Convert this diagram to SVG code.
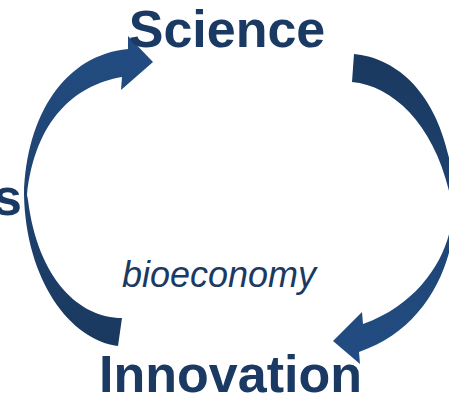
<svg xmlns="http://www.w3.org/2000/svg" width="449" height="398" viewBox="0 0 449 398">
<defs>
<style>
.lbl{font-family:"Liberation Sans",Arial,sans-serif;font-weight:bold;font-size:52px;fill:#1b3a63}
.mid{font-family:"Liberation Sans",Arial,sans-serif;font-style:italic;font-size:36px;fill:#1b3a63}
</style>
<linearGradient id="gL" gradientUnits="userSpaceOnUse" x1="120" y1="340" x2="140" y2="50">
<stop offset="0" stop-color="#1a3960"/><stop offset="1" stop-color="#224c81"/>
</linearGradient>
<linearGradient id="gR" gradientUnits="userSpaceOnUse" x1="355" y1="60" x2="340" y2="345">
<stop offset="0" stop-color="#1a3960"/><stop offset="1" stop-color="#224c81"/>
</linearGradient>
</defs>
<rect width="449" height="398" fill="#fff"/>
<g id="connectors">
<path id="arrow-left" fill="url(#gL)" d="M118,346 C70,340 26,280 24,195 C26,115 65,55 128,49 L128,36 L153,62 L121,90 L122,77 C75,85 35,120 27,195 L28,200 C38,280 80,318 122,318 Z"/>
<path id="arrow-right" fill="url(#gR)" d="M354,54 C400,58 450,100 455,205 C456,265 425,330 359,352 L360,364 L333,341 L362,312 L363,324 C430,300 455,240 452,205 C438,128 395,86 352,82 Z"/>
</g>
<g id="node-science"><text class="lbl" x="227" y="47" text-anchor="middle">Science</text></g>
<g id="node-innovation"><text class="lbl" x="230.5" y="392" text-anchor="middle">Innovation</text></g>
<g id="node-left"><text class="lbl" x="22" y="215" text-anchor="end">s</text></g>
<g id="center"><text class="mid" x="219" y="287" text-anchor="middle">bioeconomy</text></g>
</svg>
